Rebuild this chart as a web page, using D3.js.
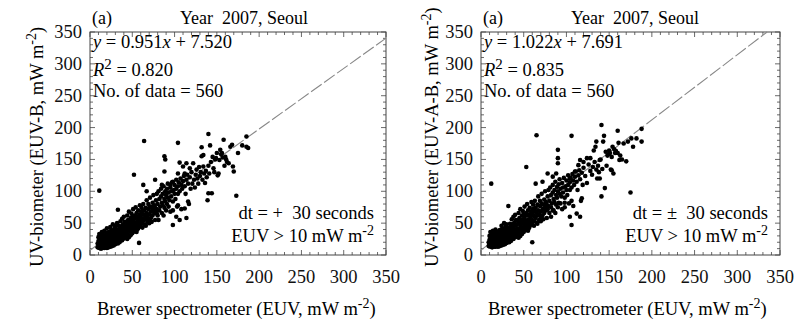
<!DOCTYPE html>
<html>
<head>
<meta charset="utf-8">
<script src="https://cdn.jsdelivr.net/npm/d3@7"></script>
<style>
  body { margin: 0; background: #fff; }
  svg { display: block; font-family: "Liberation Serif", "Times New Roman", serif; }
</style>
</head>
<body>
<svg id="chart" width="806" height="325"></svg>
<script>
// tick values shared by both axes of both panels
const axisTicks = [0, 50, 100, 150, 200, 250, 300, 350];
const minorTicks = d3.range(0, 351, 10);

// fit statistics printed in each panel
const fitSlopes = [0.951, 1.022];
const fitIntercepts = [7.520, 7.691];
const fitR2 = [0.820, 0.835];
const dataCounts = [560, 560];
const dtSigns = ['+', '\u00b1'];
const yTitles = ['UV-biometer (EUV-B, mW m', 'UV-biometer (EUV-A-B, mW m'];

const pointsB = [
  [9,12],[9,18],[10,14],[10,22],[10,28],[11,11],[11,16],[11,33],[12,13],[12,19],[12,25],[13,10],[13,15],[13,22],[13,30],
  [14,12],[14,17],[14,27],[14,36],[15,11],[15,14],[15,20],[15,24],[15,32],[16,12],[16,16],[16,22],[16,29],[17,11],[17,14],
  [17,19],[17,26],[17,38],[18,13],[18,17],[18,23],[18,31],[19,12],[19,15],[19,20],[19,28],[19,35],[20,11],[20,14],[20,18],
  [20,24],[20,42],[21,13],[21,16],[21,21],[21,30],[22,12],[22,15],[22,19],[22,26],[22,36],[23,14],[23,17],[23,22],[23,33],
  [24,13],[24,16],[24,20],[24,28],[24,44],[25,15],[25,18],[25,24],[25,31],[25,39],[26,14],[26,21],[26,27],[26,35],[27,16],
  [27,19],[27,25],[27,30],[27,48],[28,15],[28,22],[28,28],[28,38],[29,18],[29,24],[29,33],[29,42],[30,17],[30,20],[30,26],
  [30,31],[30,45],[31,19],[31,23],[31,29],[31,37],[32,21],[32,27],[32,34],[32,50],[33,18],[33,24],[33,30],[33,40],[33,71],
  [34,22],[34,28],[34,36],[34,46],[35,20],[35,26],[35,33],[35,42],[36,24],[36,30],[36,38],[36,53],[37,27],[37,34],[37,45],
  [38,23],[38,31],[38,40],[38,57],[39,29],[39,36],[39,48],[40,26],[40,33],[40,43],[40,60],[41,30],[41,38],[41,52],[42,35],
  [42,45],[42,28],[44,25],[46,28],[48,31],[50,34],[52,37],[55,36],[57,42],[62,43],[66,46],[70,50],[73,52],
  [43,40],[43,52],[44,33],[44,47],[44,62],[45,38],[45,55],[46,44],[46,30],[46,68],[47,50],[47,40],[48,36],[48,58],[48,46],
  [49,53],[49,65],[50,42],[50,48],[50,60],[51,38],[51,56],[51,72],[52,46],[52,52],[52,126],[53,62],[53,41],[54,50],[54,58],
  [54,75],[55,45],[55,66],[56,53],[56,40],[57,60],[57,70],[58,19],[58,48],[58,56],[59,64],[59,78],[60,52],[60,60],[60,45],
  [61,68],[61,74],[62,57],[62,50],[63,64],[63,80],[63,110],[64,55],[64,70],[64,179],[65,62],[65,48],[66,74],[66,58],[67,66],
  [67,86],[67,100],[68,60],[68,52],[69,72],[69,80],[70,64],[70,56],[71,76],[71,90],[72,68],[72,58],[73,74],[74,62],[74,82],
  [75,70],[75,94],[76,66],[76,78],[77,74],[77,55],[77,118],[78,86],[78,68],[79,96],[79,72],[79,65],[80,80],[80,62],[81,55],
  [81,100],[82,88],[82,70],[83,76],[84,92],[84,104],[85,82],[85,66],[85,110],[86,96],[86,78],[87,108],[87,62],[88,88],[88,74],
  [88,131],[88,155],[89,150],[89,100],[89,84],[90,94],[90,70],[91,104],[91,80],[92,90],[92,112],[93,76],[93,98],[94,86],[95,106],
  [95,68],[95,110],[96,92],[96,100],[97,114],[98,84],[98,70],[98,47],[98,115],[99,102],[100,96],[100,110],[101,88],[102,118],[102,104],
  [102,60],[103,76],[104,108],[104,96],[104,128],[104,78],[104,176],[105,114],[106,55],[106,100],[106,145],[107,120],[108,110],[108,72],[109,104],
  [110,116],[110,139],[111,124],[112,108],[112,128],[112,73],[113,96],[114,58],[114,118],[114,144],[115,126],[116,112],[116,84],[117,80],[118,122],
  [118,136],[119,104],[120,130],[121,112],[122,144],[123,118],[124,106],[125,126],[126,134],[127,120],[128,112],[129,138],[130,124],[131,130],[132,155],
  [132,169],[133,118],[134,139],[134,157],[135,128],[136,113],[137,132],[138,122],[139,86],[140,97],[140,190],[140,140],[141,128],[142,172],[143,146],
  [144,97],[145,154],[146,136],[147,130],[148,150],[149,152],[150,160],[151,125],[152,128],[153,149],[154,165],[155,158],[156,160],[157,153],[158,181],
  [159,140],[160,154],[161,150],[162,146],[164,144],[166,170],[168,173],[169,139],[170,131],[173,93],[175,160],[180,172],[185,186],[185,170],[187,168],
  [11,101]
];

const pointsAB = [
  [9,14],[9,20],[10,16],[10,24],[10,30],[11,13],[11,18],[11,36],[12,15],[12,21],[12,27],[13,12],[13,17],[13,24],[13,32],
  [14,14],[14,19],[14,29],[14,38],[15,13],[15,16],[15,22],[15,26],[15,34],[16,14],[16,18],[16,24],[16,31],[17,13],[17,16],
  [17,21],[17,28],[17,40],[18,15],[18,19],[18,25],[18,33],[19,14],[19,17],[19,22],[19,30],[19,37],[20,13],[20,16],[20,20],
  [20,26],[21,15],[21,18],[21,23],[21,32],[22,14],[22,17],[22,21],[22,28],[22,39],[23,16],[23,19],[23,24],[23,35],[24,15],
  [24,18],[24,22],[24,30],[24,46],[25,17],[25,20],[25,26],[25,33],[25,42],[26,16],[26,23],[26,29],[26,37],[27,18],[27,21],
  [27,27],[27,32],[27,50],[28,17],[28,24],[28,30],[28,40],[29,20],[29,26],[29,35],[29,45],[30,19],[30,22],[30,28],[30,33],
  [30,48],[31,21],[31,25],[31,31],[31,39],[32,23],[32,29],[32,36],[32,77],[33,20],[33,26],[33,32],[33,43],[34,24],[34,30],
  [34,38],[34,49],[35,22],[35,28],[35,35],[35,45],[36,26],[36,32],[36,40],[36,56],[37,29],[37,36],[37,48],[38,25],[38,33],
  [38,42],[38,60],[39,31],[39,38],[39,51],[40,28],[40,35],[40,46],[40,63],[41,32],[41,40],[41,55],[42,37],[42,48],[42,30],
  [44,27],[46,30],[48,33],[50,36],[52,39],[55,38],[57,45],[62,46],[66,49],[70,53],[73,56],
  [43,42],[43,55],[44,35],[44,50],[44,66],[45,40],[45,58],[46,47],[46,32],[46,72],[47,53],[47,43],[48,38],[48,62],[48,49],
  [49,56],[49,69],[50,44],[50,51],[50,64],[51,40],[51,60],[51,76],[52,49],[52,55],[53,66],[53,44],[53,138],[54,53],[54,62],
  [54,80],[55,48],[55,70],[56,56],[56,42],[57,64],[57,74],[58,51],[58,60],[59,68],[59,83],[60,20],[60,55],[60,64],[60,48],
  [61,72],[61,79],[62,61],[62,53],[63,68],[63,85],[64,58],[64,74],[64,112],[65,66],[65,51],[65,188],[66,79],[66,62],[67,70],
  [67,92],[68,64],[68,55],[69,77],[69,85],[70,68],[70,59],[71,81],[71,96],[72,72],[72,115],[72,62],[73,79],[74,66],[74,87],
  [75,74],[75,100],[76,70],[76,83],[77,79],[77,58],[78,128],[78,92],[78,72],[79,102],[79,77],[80,85],[80,66],
  [81,106],[82,60],[82,94],[82,75],[83,81],[84,123],[84,70],[84,98],[84,110],[85,88],[85,70],[86,102],[86,83],[87,115],[87,66],
  [88,128],[88,94],[88,79],[89,107],[89,90],[90,152],[90,165],[90,144],[90,100],[90,75],[91,111],[91,82],[92,96],[92,119],[93,81],
  [93,104],[94,92],[95,113],[95,72],[96,98],[96,106],[97,121],[98,82],[98,90],[98,75],[99,108],[100,102],[100,117],[101,94],[102,125],
  [102,110],[103,81],[104,60],[104,120],[104,114],[104,102],[105,121],[106,47],[106,85],[106,106],[106,187],[107,127],[108,117],[108,77],[109,110],
  [110,131],[110,123],[111,131],[112,65],[112,115],[113,102],[114,141],[114,125],[115,133],[116,149],[116,60],[116,119],[117,85],[118,89],[118,129],
  [119,110],[120,146],[120,137],[122,124],[124,152],[124,113],[126,142],[128,152],[128,132],[130,126],
  [131,138],[132,164],[133,146],[134,170],[135,178],[135,134],[136,120],[137,140],[138,130],[139,120],[139,149],[140,150],[141,92],[141,204],[142,135],
  [143,178],[144,187],[145,105],[146,162],[147,140],[148,156],[149,158],[150,164],[151,160],[152,134],[153,154],[153,133],[154,170],[155,128],[156,166],
  [157,160],[158,163],[160,195],[160,160],[161,176],[162,149],[163,156],[165,150],[167,175],[170,147],[172,178],[175,98],[176,183],[178,170],[182,183],
  [188,198],[188,178],[12,112]
];

const svg = d3.select('#chart');

// plot boxes in pixels
const boxes = [
  {left: 90, right: 386, top: 32, bottom: 255},
  {left: 481, right: 780, top: 32, bottom: 255}
];

// add a run of text pieces (italic / superscript) into one text node
function richText(sel, parts) {
  parts.forEach(p => {
    let t = sel.append('tspan').text(p.t);
    if (p.i) t.attr('font-style', 'italic');
    if (p.sup) t.attr('dy', -7).attr('font-size', p.size || 13);
    if (p.down) t.attr('dy', 7);
  });
  return sel;
}

function drawPanel(k, points) {
  let b = boxes[k];
  let x = d3.scaleLinear().domain([0, 350]).range([b.left, b.right]);
  let y = d3.scaleLinear().domain([0, 350]).range([b.bottom, b.top]);
  let g = svg.append('g');

  // inward ticks on all four sides
  let ticks = g.append('g').attr('stroke', '#444').attr('stroke-width', 0.8);
  minorTicks.forEach(v => {
    let len = v % 50 === 0 ? 5 : 3;
    ticks.append('line').attr('x1', x(v)).attr('x2', x(v)).attr('y1', b.bottom).attr('y2', b.bottom - len);
    ticks.append('line').attr('x1', x(v)).attr('x2', x(v)).attr('y1', b.top).attr('y2', b.top + len);
    ticks.append('line').attr('y1', y(v)).attr('y2', y(v)).attr('x1', b.left).attr('x2', b.left + len);
    ticks.append('line').attr('y1', y(v)).attr('y2', y(v)).attr('x1', b.right).attr('x2', b.right - len);
  });

  g.append('rect')
    .attr('x', b.left).attr('y', b.top)
    .attr('width', b.right - b.left).attr('height', b.bottom - b.top)
    .attr('fill', 'none').attr('stroke', '#444').attr('stroke-width', 1);

  // tick labels
  g.selectAll('.xl').data(axisTicks).enter().append('text')
    .attr('x', d => x(d)).attr('y', b.bottom + 28)
    .attr('text-anchor', 'middle').attr('font-size', 18.5).attr('fill', '#111')
    .text(d => d);
  g.selectAll('.yl').data(axisTicks).enter().append('text')
    .attr('x', b.left - 8).attr('y', d => y(d) + 6)
    .attr('text-anchor', 'end').attr('font-size', 18.5).attr('fill', '#111')
    .text(d => d);

  // fitted line, under the points
  let slope = fitSlopes[k], icpt = fitIntercepts[k];
  let xEnd = Math.min(350, (350 - icpt) / slope);
  g.append('line')
    .attr('x1', x(0)).attr('y1', y(icpt))
    .attr('x2', x(xEnd)).attr('y2', y(slope * xEnd + icpt))
    .attr('stroke', '#888').attr('stroke-width', 1.1)
    .attr('stroke-dasharray', '13,3');

  g.selectAll('circle').data(points).enter().append('circle')
    .attr('cx', d => x(d[0])).attr('cy', d => y(d[1]))
    .attr('r', 2.3).attr('fill', '#000');

  // headers
  g.append('text').attr('x', b.left + 2).attr('y', 24)
    .attr('font-size', 18).text('(a)');
  g.append('text').attr('x', b.left + 154).attr('y', 24)
    .attr('font-size', 18).attr('text-anchor', 'middle')
    .style('white-space', 'pre').text('Year  2007, Seoul');

  // statistics
  richText(g.append('text').attr('x', b.left + 3).attr('y', 48).attr('font-size', 18.5), [
    {t: 'y', i: true}, {t: ' = ' + slope.toFixed(3)}, {t: 'x', i: true}, {t: ' + ' + icpt.toFixed(3)}
  ]);
  richText(g.append('text').attr('x', b.left + 3).attr('y', 76).attr('font-size', 18.5), [
    {t: 'R', i: true}, {t: '2', sup: true, size: 15}, {t: ' = ' + fitR2[k].toFixed(3), down: true}
  ]);
  g.append('text').attr('x', b.left + 3).attr('y', 97).attr('font-size', 18.5)
    .text('No. of data = ' + dataCounts[k]);

  g.append('text').attr('x', b.right - 12).attr('y', 219)
    .attr('font-size', 18.5).attr('text-anchor', 'end')
    .style('white-space', 'pre').text('dt = ' + dtSigns[k] + '  30 seconds');
  richText(g.append('text').attr('x', b.right - 12).attr('y', 242)
      .attr('font-size', 18.5).attr('text-anchor', 'end'), [
    {t: 'EUV > 10 mW m'}, {t: '-2', sup: true, size: 14}
  ]);

  // axis titles
  richText(g.append('text').attr('x', b.left + 7).attr('y', 315).attr('font-size', 18.5), [
    {t: 'Brewer spectrometer (EUV, mW m'}, {t: '-2', sup: true, size: 14}, {t: ')', down: true}
  ]);
  richText(g.append('text')
      .attr('transform', 'translate(' + (b.left - (k === 0 ? 47 : 43)) + ',267) rotate(-90)')
      .attr('font-size', 18.5), [
    {t: yTitles[k]}, {t: '-2', sup: true, size: 14}, {t: ')', down: true}
  ]);
}

drawPanel(0, pointsB);
drawPanel(1, pointsAB);
</script>
</body>
</html>
